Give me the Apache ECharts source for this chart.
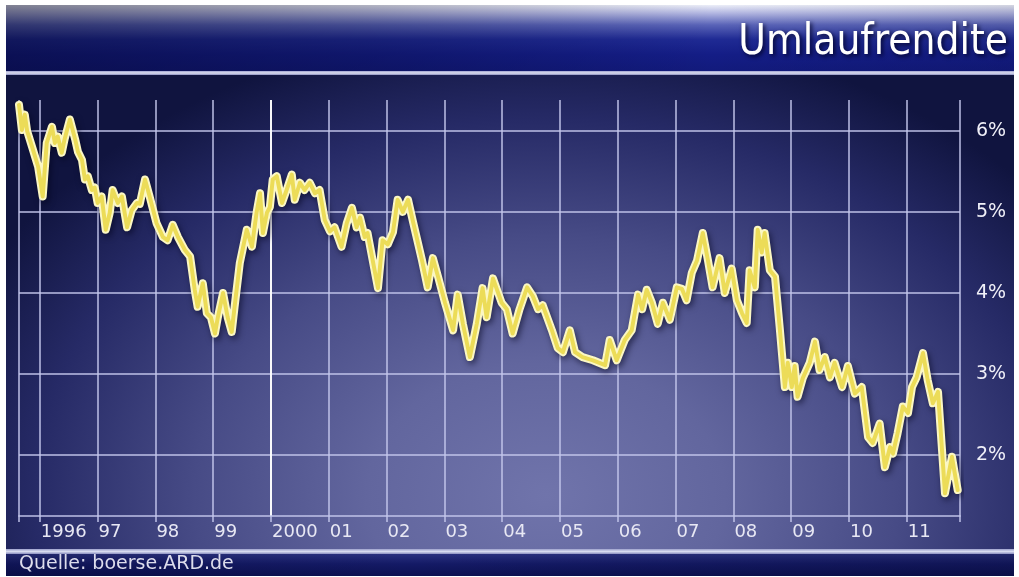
<!DOCTYPE html>
<html>
<head>
<meta charset="utf-8">
<script src="https://cdn.jsdelivr.net/npm/echarts@6/dist/echarts.min.js"></script>
<style>
html,body{margin:0;padding:0;background:#ffffff;}
#wrap{position:relative;width:1019px;height:577px;overflow:hidden;background:#ffffff;}
#header{position:absolute;left:6px;top:5px;width:1008px;height:66px;
  background:
   linear-gradient(90deg, rgba(0,0,25,0.45) 0%, rgba(0,0,25,0.25) 35%, rgba(0,0,25,0.0) 70%, rgba(0,0,25,0.1) 100%),
   linear-gradient(180deg, #eceef8 0%, #b4b8e2 12%, #5a64b8 30%, #1f2a94 52%, #141d86 75%, #121a7c 100%);}
#sep1{position:absolute;left:6px;top:71px;width:1008px;height:4px;
  background:linear-gradient(180deg,#9ea2d0 0%,#dcdef0 50%,#8c90c2 100%);}
#plotbg{position:absolute;left:6px;top:75px;width:1008px;height:474px;
  background:
   radial-gradient(ellipse 640px 470px at 540px 420px, #7074ab 0%, #62669e 28%, #474b86 55%, #262a66 80%, #10143f 100%);}
#sep2{position:absolute;left:6px;top:549px;width:1008px;height:5px;
  background:linear-gradient(180deg,#9ca0cc 0%,#d8dcf0 50%,#8a8ec0 100%);}
#footer{position:absolute;left:6px;top:554px;width:1008px;height:22px;
  background:
   linear-gradient(90deg, rgba(0,0,20,0.2) 0%, rgba(0,0,20,0) 40%, rgba(0,0,20,0.2) 100%),
   linear-gradient(180deg,#2a3180 0%,#141a66 45%,#0c1152 100%);}
#chart{position:absolute;left:0;top:0;width:1019px;height:577px;}
</style>
</head>
<body>
<div id="wrap">
  <div id="header"></div>
  <div id="sep1"></div>
  <div id="plotbg"></div>
  <div id="sep2"></div>
  <div id="footer"></div>
  <div id="chart"></div>
</div>
<script>
// ---- data ----
const titleText = 'Umlaufrendite';
const sourceText = 'Quelle: boerse.ARD.de';
const yearTicks = [1996,1997,1998,1999,2000,2001,2002,2003,2004,2005,2006,2007,2008,2009,2010,2011];
const percentTicks = [2,3,4,5,6];
// decimal years
const dates = [
  1995.64,1995.69,1995.74,1995.78,1995.88,1995.97,1996.05,1996.12,1996.21,1996.26,
  1996.31,1996.38,1996.43,1996.52,1996.61,1996.66,1996.73,1996.78,1996.83,1996.90,
  1996.95,1997.00,1997.07,1997.14,1997.21,1997.26,1997.35,1997.42,1997.51,1997.59,
  1997.68,1997.73,1997.82,1997.90,1998.02,1998.13,1998.21,1998.30,1998.39,1998.51,
  1998.60,1998.68,1998.73,1998.82,1998.89,1998.96,1999.03,1999.08,1999.17,1999.25,
  1999.32,1999.37,1999.46,1999.58,1999.67,1999.75,1999.81,1999.86,1999.93,1999.98,
  2000.03,2000.10,2000.19,2000.27,2000.36,2000.41,2000.50,2000.58,2000.67,2000.76,
  2000.84,2000.93,2001.02,2001.10,2001.22,2001.31,2001.40,2001.48,2001.54,2001.62,
  2001.67,2001.85,2001.93,2002.02,2002.11,2002.19,2002.28,2002.37,2002.45,2002.61,
  2002.71,2002.80,2002.89,2003.01,2003.15,2003.23,2003.32,2003.44,2003.56,2003.66,
  2003.73,2003.84,2003.91,2003.99,2004.08,2004.18,2004.30,2004.43,2004.53,2004.62,
  2004.70,2004.86,2004.96,2005.05,2005.17,2005.26,2005.39,2005.57,2005.78,2005.86,
  2005.98,2006.12,2006.24,2006.35,2006.42,2006.50,2006.59,2006.69,2006.78,2006.90,
  2007.02,2007.11,2007.19,2007.28,2007.37,2007.47,2007.56,2007.64,2007.76,2007.85,
  2007.97,2008.06,2008.15,2008.23,2008.28,2008.37,2008.42,2008.49,2008.54,2008.63,
  2008.72,2008.80,2008.89,2008.94,2009.01,2009.06,2009.11,2009.20,2009.32,2009.41,
  2009.49,2009.58,2009.67,2009.75,2009.88,2009.98,2010.10,2010.22,2010.33,2010.41,
  2010.53,2010.62,2010.71,2010.76,2010.84,2010.93,2011.02,2011.09,2011.17,2011.28,
  2011.36,2011.45,2011.54,2011.66,2011.78,2011.88
];
// yield in percent
const yields = [
  6.32,6.01,6.20,6.00,5.77,5.56,5.19,5.85,6.05,5.85,
  5.93,5.73,5.90,6.14,5.90,5.74,5.64,5.40,5.44,5.27,
  5.30,5.11,5.19,4.78,4.99,5.27,5.11,5.19,4.81,5.02,
  5.11,5.10,5.40,5.19,4.86,4.69,4.65,4.84,4.69,4.53,
  4.45,4.04,3.83,4.12,3.75,3.70,3.50,3.70,4.00,3.70,
  3.52,3.83,4.37,4.78,4.57,4.99,5.23,4.74,4.99,5.06,
  5.40,5.44,5.11,5.27,5.46,5.15,5.36,5.27,5.36,5.23,
  5.27,4.90,4.76,4.81,4.57,4.86,5.05,4.81,4.93,4.69,
  4.74,4.06,4.65,4.60,4.75,5.15,5.00,5.15,4.90,4.41,
  4.07,4.43,4.20,3.88,3.54,3.98,3.62,3.21,3.62,4.06,
  3.70,4.18,4.04,3.88,3.80,3.50,3.80,4.07,3.96,3.80,
  3.85,3.54,3.32,3.27,3.54,3.27,3.21,3.17,3.11,3.42,
  3.17,3.42,3.54,3.98,3.80,4.04,3.88,3.62,3.88,3.67,
  4.07,4.05,3.91,4.25,4.40,4.74,4.40,4.07,4.43,4.00,
  4.30,3.91,3.75,3.63,4.28,4.07,4.78,4.50,4.74,4.28,
  4.20,3.58,2.84,3.14,2.84,3.10,2.72,2.95,3.14,3.40,
  3.05,3.21,2.96,3.14,2.84,3.10,2.76,2.84,2.22,2.15,
  2.39,1.85,2.10,2.02,2.27,2.60,2.52,2.84,2.96,3.26,
  2.93,2.64,2.78,1.53,1.98,1.57
];
const xMin = 1995.64, xMax = 2011.92;
const yMin = 1.25, yMax = 6.38;

// ---- chart ----
const gridColor = 'rgba(196,198,236,0.72)';
const xTickValues = [xMin].concat(yearTicks, [xMax]);
const xSplitColors = xTickValues.map(v => v === 2000 ? 'rgba(255,255,255,0.97)' : gridColor);
const series = dates.map((d, i) => [d, yields[i]]);
const labelFont = 'DejaVu Sans';

const chart = echarts.init(document.getElementById('chart'), null, {renderer: 'canvas'});
chart.setOption({
  animation: false,
  backgroundColor: 'transparent',
  title: [
    {
      text: titleText, right: 11, top: 22, padding: 0,
      textStyle: {
        fontFamily: 'DejaVu Sans Condensed', fontSize: 42, fontWeight: 'normal', color: '#ffffff',
        textShadowColor: 'rgba(0,0,30,0.85)', textShadowBlur: 4, textShadowOffsetX: 2, textShadowOffsetY: 2
      }
    },
    {
      text: sourceText, left: 19, top: 555, padding: 0,
      textStyle: { fontFamily: labelFont, fontSize: 19, fontWeight: 'normal', color: '#dcdcec' }
    }
  ],
  grid: { left: 19, right: 59, top: 100, bottom: 61, containLabel: false },
  xAxis: {
    type: 'value', min: xMin, max: xMax,
    axisLine: { show: true, onZero: false, lineStyle: { color: gridColor, width: 2 } },
    axisTick: { show: true, customValues: xTickValues, length: 6, lineStyle: { color: gridColor, width: 2 } },
    axisLabel: {
      customValues: yearTicks, align: 'left', margin: 7, padding: [0, 0, 0, 1],
      color: '#e8e8f4', fontSize: 18, fontFamily: labelFont,
      formatter: v => (v === 1996 || v === 2000) ? String(v) : String(v).slice(2)
    },
    splitLine: { show: true, lineStyle: { color: xSplitColors, width: 2 } }
  },
  yAxis: {
    type: 'value', position: 'right', min: yMin, max: yMax,
    axisLine: { show: false },
    axisTick: { show: false, customValues: percentTicks },
    axisLabel: {
      customValues: percentTicks, margin: 16, color: '#f0f0f8', fontSize: 19, fontFamily: labelFont,
      formatter: '{value}%'
    },
    splitLine: { show: true, lineStyle: { color: gridColor, width: 2 } }
  },
  series: [
    {
      type: 'line', data: series, symbol: 'none', silent: true, z: 3,
      lineStyle: { width: 8, color: '#fbf7c4', join: 'round', cap: 'round',
        shadowColor: 'rgba(0,0,25,0.55)', shadowBlur: 6, shadowOffsetX: 2, shadowOffsetY: 3 }
    },
    {
      type: 'line', data: series, symbol: 'none', silent: true, z: 4,
      lineStyle: { width: 4, color: '#ecdc58', join: 'round', cap: 'round' }
    }
  ]
});
</script>
</body>
</html>
